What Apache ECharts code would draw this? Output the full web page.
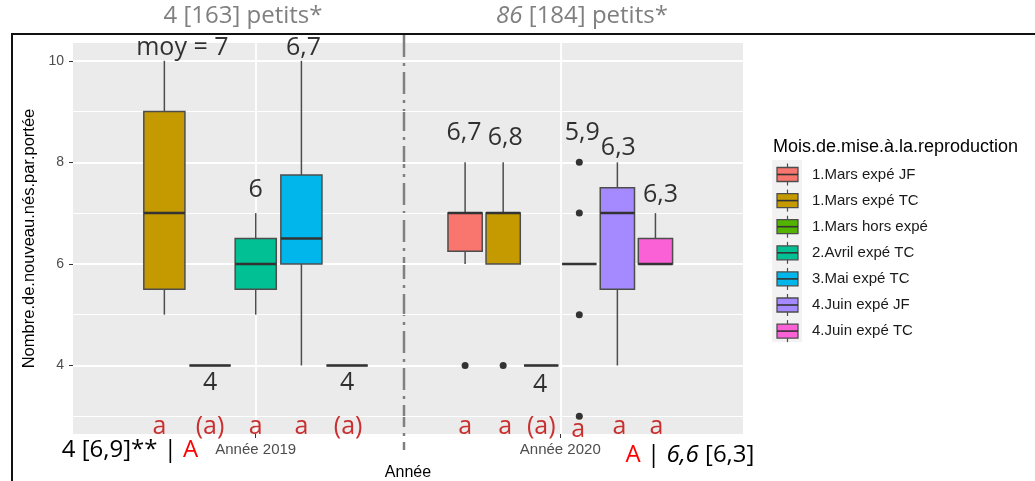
<!DOCTYPE html>
<html><head><meta charset="utf-8">
<script src="https://cdn.jsdelivr.net/npm/echarts@6/dist/echarts.min.js"></script>
<style>html,body{margin:0;padding:0;background:#fff}#c{width:1035px;height:481px}</style>
</head><body><div id="c"></div>
<script>
// ---------------- DATA ----------------
const categories = ['Année 2019', 'Année 2020'];
const groupNames = ['1.Mars expé JF', '1.Mars expé TC', '1.Mars hors expé', '2.Avril expé TC', '3.Mai expé TC', '4.Juin expé JF', '4.Juin expé TC'];
const groupColors = ['#F8766D', '#C49A00', '#53B400', '#00C094', '#00B6EB', '#A58AFF', '#FB61D7'];
// groups present in each year (indices into groupNames)
const groups2019 = [1, 2, 3, 4, 6];
const groups2020 = [0, 1, 2, 3, 5, 6];
// box stats: [min, q1, median, q3, max]
const box2019 = [[5, 5.5, 7, 9, 10], [4, 4, 4, 4, 4], [5, 5.5, 6, 6.5, 7], [4, 6, 6.5, 7.75, 10], [4, 4, 4, 4, 4]];
const box2020 = [[6, 6.25, 7, 7, 8], [6, 6, 7, 7, 8], [4, 4, 4, 4, 4], [6, 6, 6, 6, 6], [4, 5.5, 7, 7.5, 8], [6, 6, 6, 6.5, 7]];
const outliers2019 = [[], [], [], [], []];
const outliers2020 = [[4], [4], [], [8, 7, 5, 3], [], []];
const means2019 = ['moy = 7', '4', '6', '6,7', '4'];
const means2020 = ['6,7', '6,8', '4', '5,9', '6,3', '6,3'];
const letters2019 = ['a', '(a)', 'a', 'a', '(a)'];
const letters2020 = ['a', 'a', '(a)', 'a', 'a', 'a'];
const yTicks = [4, 6, 8, 10];
const yMinor = [3, 5, 7, 9];
const xTicks = [1, 2];
const titles = ['4 [163] petits*', '86 [184] petits*'];
const summaryLeft = ['4 [6,9]** | ', 'A'];
const summaryRight = ['A', ' | ', '6,6', ' [6,3]'];

// ---------------- LAYOUT (positions, not data) ----------------
const meanLabelY = [[10.25, 3.65, 7.45, 10.25, 3.65], [8.58, 8.48, 3.62, 8.58, 8.28, 7.36]];
const meanDx = [[18, 0, 0, 2, 0], [-1, 2, -1, 3, 1, 5]];
const letterY = 2.79;
const letterDx = [[-5, 0, 0, 0, 1], [0, 2, 0, -1, 2, 1]];
const letterDy = [[0, 0, 0, 0, 0], [0, 0, 0, 3, 0, 0]];

const yearGroups = [groups2019, groups2020];
const yearBoxes = [box2019, box2020];
const yearOutliers = [outliers2019, outliers2020];
const yearMeans = [means2019, means2020];
const yearLetters = [letters2019, letters2020];

const DODGE = 0.75, PAD = 0.9;
const boxData = [], outlierData = [], annData = [];
yearGroups.forEach((gs, ci) => {
  const n = gs.length, step = DODGE / n;
  gs.forEach((g, i) => {
    const x = ci + 1 - DODGE / 2 + step * (i + 0.5);
    const s = yearBoxes[ci][i];
    boxData.push([x, s[0], s[1], s[2], s[3], s[4], step * PAD, g]);
    yearOutliers[ci][i].forEach(v => outlierData.push([x, v]));
    annData.push({ value: [x, meanLabelY[ci][i]], label: { formatter: yearMeans[ci][i], offset: [meanDx[ci][i], 0], color: '#000000' } });
    annData.push({ value: [x, letterY], label: { formatter: yearLetters[ci][i], offset: [letterDx[ci][i], letterDy[ci][i]], color: '#C00000' } });
  });
});

const SANS = '"Liberation Sans", Arial, sans-serif';
const CAL = '"Open Sans", "Noto Sans", sans-serif';

const gridLines = [];
yMinor.forEach(v => gridLines.push({ yAxis: v, lineStyle: { color: '#FFFFFF', width: 1.2, type: 'solid' } }));
yTicks.forEach(v => gridLines.push({ yAxis: v, lineStyle: { color: '#FFFFFF', width: 1.8, type: 'solid' } }));
xTicks.forEach(v => gridLines.push({ xAxis: v, lineStyle: { color: '#FFFFFF', width: 1.8, type: 'solid' } }));

// legend graphics
const legendEls = [];
legendEls.push({ type: 'text', x: 773, y: 147, style: { text: 'Mois.de.mise.à.la.reproduction', font: '18px ' + SANS, fill: '#000', verticalAlign: 'middle' } });
legendEls.push({ type: 'rect', shape: { x: 772, y: 160, width: 30, height: 182 }, style: { fill: '#F2F2F2' } });
groupNames.forEach((name, i) => {
  const cy = 174.5 + 26.1 * i;
  legendEls.push({ type: 'line', shape: { x1: 787.5, y1: cy - 11, x2: 787.5, y2: cy + 11 }, style: { stroke: '#4D4D4D', lineWidth: 1.2 } });
  legendEls.push({ type: 'rect', shape: { x: 777, y: cy - 7, width: 21, height: 14 }, style: { fill: groupColors[i], stroke: '#4D4D4D', lineWidth: 1.3 } });
  legendEls.push({ type: 'line', shape: { x1: 777, y1: cy, x2: 798, y2: cy }, style: { stroke: '#333', lineWidth: 1.6 } });
  legendEls.push({ type: 'text', x: 812, y: cy, style: { text: name, font: '15px ' + SANS, fill: '#1A1A1A', verticalAlign: 'middle' } });
});

const option = {
  animation: false,
  backgroundColor: '#FFFFFF',
  grid: { left: 73, right: 292, top: 43, bottom: 47, show: true, backgroundColor: '#EBEBEB', borderWidth: 0, containLabel: false, outerBoundsMode: 'none' },
  xAxis: {
    type: 'value', min: 0.4, max: 2.6,
    name: 'Année', nameLocation: 'middle', nameGap: 31,
    nameTextStyle: { fontFamily: SANS, fontSize: 16, color: '#000' },
    axisLine: { show: false },
    axisTick: { show: true, customValues: xTicks, length: 4, lineStyle: { color: '#333', width: 1 } },
    axisLabel: { customValues: xTicks, formatter: v => categories[Math.round(v) - 1] || '', fontFamily: SANS, fontSize: 15, color: '#4D4D4D', margin: 8 },
    splitLine: { show: false }
  },
  yAxis: {
    type: 'value', min: 2.65, max: 10.35,
    name: 'Nombre.de.nouveau.nés.par.portée', nameLocation: 'middle', nameGap: 32, nameRotate: 90,
    nameTextStyle: { fontFamily: SANS, fontSize: 16.5, color: '#000' },
    axisLine: { show: false },
    axisTick: { show: true, customValues: yTicks, length: 4, lineStyle: { color: '#333', width: 1 } },
    axisLabel: { customValues: yTicks, fontFamily: SANS, fontSize: 14, color: '#4D4D4D', margin: 9 },
    splitLine: { show: false }
  },
  series: [
    {
      type: 'scatter', z: 1, data: [], silent: true,
      markLine: { z: 1, silent: true, symbol: ['none', 'none'], label: { show: false }, animation: false, data: gridLines }
    },
    {
      type: 'custom', z: 6, data: boxData,
      encode: { x: 0, y: [1, 2, 3, 4, 5] },
      renderItem: (params, api) => {
        const x = api.value(0), w = api.value(6), col = groupColors[api.value(7)];
        const pMin = api.coord([x, api.value(1)]), pQ1 = api.coord([x, api.value(2)]),
              pMed = api.coord([x, api.value(3)]), pQ3 = api.coord([x, api.value(4)]),
              pMax = api.coord([x, api.value(5)]);
        const hw = api.size([w, 0])[0] / 2, cx = pMin[0];
        return { type: 'group', children: [
          { type: 'line', shape: { x1: cx, y1: pQ1[1], x2: cx, y2: pMin[1] }, style: { stroke: '#4D4D4D', lineWidth: 1.5 } },
          { type: 'line', shape: { x1: cx, y1: pQ3[1], x2: cx, y2: pMax[1] }, style: { stroke: '#4D4D4D', lineWidth: 1.5 } },
          { type: 'rect', shape: { x: cx - hw, y: pQ3[1], width: 2 * hw, height: pQ1[1] - pQ3[1] }, style: { fill: col, stroke: '#4D4D4D', lineWidth: 1.5 } },
          { type: 'line', shape: { x1: cx - hw, y1: pMed[1], x2: cx + hw, y2: pMed[1] }, style: { stroke: '#333333', lineWidth: 2.5 } }
        ] };
      }
    },
    {
      type: 'scatter', z: 7, data: outlierData, symbol: 'circle', symbolSize: 7,
      itemStyle: { color: '#333333', opacity: 1 }
    },
    {
      type: 'scatter', z: 8, data: annData, symbolSize: 1,
      itemStyle: { color: 'transparent' },
      label: { show: true, position: 'inside', fontFamily: CAL, fontSize: 25, textBorderWidth: 0 }
    }
  ],
  graphic: [
    { type: 'polyline', shape: { points: [[12, 481], [12, 34], [1035, 34]] }, style: { stroke: '#111', lineWidth: 2, fill: null } },
    { type: 'line', shape: { x1: 404, y1: 35, x2: 404, y2: 450 }, style: { stroke: '#808080', lineWidth: 2.5, lineDash: [22, 6, 3, 6] } },
    { type: 'text', x: 243, y: 16, style: { text: titles[0], font: '24px ' + CAL, fill: '#7F7F7F', align: 'center', verticalAlign: 'middle' } },
    { type: 'text', x: 582, y: 16, style: {
        text: '{i|86}{n|' + titles[1].slice(2) + '}', align: 'center', verticalAlign: 'middle',
        rich: { i: { font: 'italic 24px ' + CAL, fill: '#7F7F7F' }, n: { font: '24px ' + CAL, fill: '#7F7F7F' } } } },
    { type: 'text', x: 130, y: 450, style: {
        text: '{k|' + summaryLeft[0] + '}{r|' + summaryLeft[1] + '}', align: 'center', verticalAlign: 'middle',
        rich: { k: { font: '24px ' + CAL, fill: '#000' }, r: { font: '24px ' + CAL, fill: '#FF0000' } } } },
    { type: 'text', x: 690, y: 455, style: {
        text: '{r|' + summaryRight[0] + '}{k|' + summaryRight[1] + '}{i|' + summaryRight[2] + '}{k|' + summaryRight[3] + '}', align: 'center', verticalAlign: 'middle',
        rich: { k: { font: '24px ' + CAL, fill: '#000' }, i: { font: 'italic 24px ' + CAL, fill: '#000' }, r: { font: '24px ' + CAL, fill: '#FF0000' } } } }
  ].concat(legendEls)
};

const chart = echarts.init(document.getElementById('c'));
chart.setOption(option);
</script>
</body></html>
